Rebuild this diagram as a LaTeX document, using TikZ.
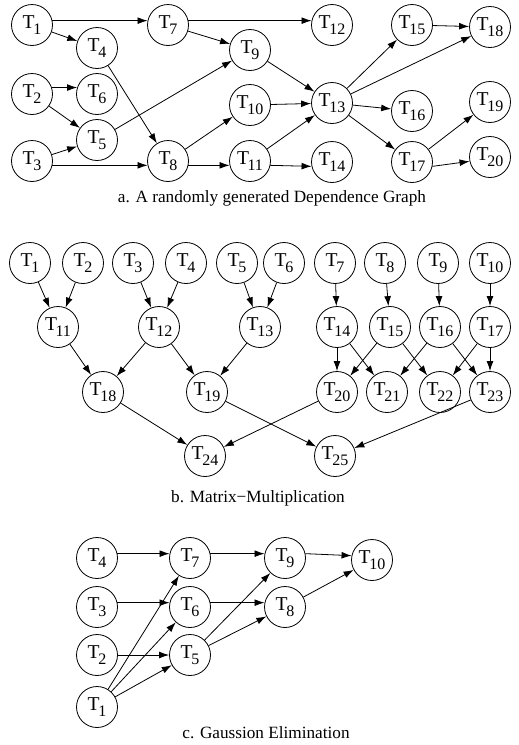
\documentclass[tikz,border=0pt]{standalone}
\usepackage{fontspec}
\setmainfont{Liberation Serif}
\usetikzlibrary{arrows.meta}
\newcommand{\tsub}[1]{T\kern-0.7pt\raisebox{-3pt}{\fontsize{8}{8}\selectfont #1}}

\begin{document}
\begin{tikzpicture}[
	x=0.5pt, y=-0.5pt,
  > = {Latex[length=5pt,width=3.4pt]},
  task/.style = {draw,circle,minimum size=20.5pt,inner sep=0pt,font=\fontsize{9.8}{10}\selectfont},
  caption/.style = {font=\fontsize{8.6}{10}\selectfont}
  ]
	\useasboundingbox (0,0) rectangle (519,745);

	% a. random graph
	\node[task] (a1) at (32,25) {\tsub{1}};
	\node[task] (a2) at (32,94) {\tsub{2}};
	\node[task] (a3) at (32,161) {\tsub{3}};
	\node[task] (a4) at (97,48) {\tsub{4}};
	\node[task] (a5) at (97,140) {\tsub{5}};
	\node[task] (a6) at (97,94) {\tsub{6}};
	\node[task] (a7) at (168,25) {\tsub{7}};
	\node[task] (a8) at (168,161) {\tsub{8}};
	\node[task] (a9) at (250,50) {\tsub{9}};
	\node[task] (a10) at (250,105) {\tsub{10}};
	\node[task] (a11) at (250,161) {\tsub{11}};
	\node[task] (a12) at (332,25) {\tsub{12}};
	\node[task] (a13) at (332,103) {\tsub{13}};
	\node[task] (a14) at (332,162) {\tsub{14}};
	\node[task] (a15) at (412,25) {\tsub{15}};
	\node[task] (a16) at (412,111) {\tsub{16}};
	\node[task] (a17) at (412,162) {\tsub{17}};
	\node[task] (a18) at (490,27) {\tsub{18}};
	\node[task] (a19) at (490,102) {\tsub{19}};
	\node[task] (a20) at (490,157) {\tsub{20}};

	\draw[->] (a1.12) -- (a7.168);
	\draw[->] (a1) -- (a4);
	\draw[->] (a7.12) -- (a12.168);
	\draw[->] (a7) -- (a9);
	\draw[->] (a4) -- (a8);
	\draw[->] (a2.18) -- (a6.162);
	\draw[->] (a2) -- (a5);
	\draw[->] (a3) -- (a5);
	\draw[->] (a5) -- (a9);
	\draw[->] (a3.-12) -- (a8.-168);
	\draw[->] (a8) -- (a10);
	\draw[->] (a8.-12) -- (a11.-168);
	\draw[->] (a9) -- (a13);
	\draw[->] (a10) -- (a13);
	\draw[->] (a11) -- (a13);
	\draw[->] (a11.-12) -- (a14.-168);
	\draw[->] (a13) -- (a15);
	\draw[->] (a13) -- (a18);
	\draw[->] (a13) -- (a16);
	\draw[->] (a13) -- (a17);
	\draw[->] (a15) -- (a18);
	\draw[->] (a17) -- (a19);
	\draw[->] (a17.-12) -- (a20.-168);

	\node[caption] (capa) at (272,198) {a. A randomly generated Dependence Graph};

	% b. matrix multiplication
	\node[task] (b1) at (30,263) {\tsub{1}};
	\node[task] (b2) at (83,263) {\tsub{2}};
	\node[task] (b3) at (133,263) {\tsub{3}};
	\node[task] (b4) at (186,263) {\tsub{4}};
	\node[task] (b5) at (237,263) {\tsub{5}};
	\node[task] (b6) at (284,263) {\tsub{6}};
	\node[task] (b7) at (335,263) {\tsub{7}};
	\node[task] (b8) at (385,263) {\tsub{8}};
	\node[task] (b9) at (438,263) {\tsub{9}};
	\node[task] (b10) at (490,263) {\tsub{10}};
	\node[task] (b11) at (58,327) {\tsub{11}};
	\node[task] (b12) at (159,327) {\tsub{12}};
	\node[task] (b13) at (260,327) {\tsub{13}};
	\node[task] (b14) at (337,327) {\tsub{14}};
	\node[task] (b15) at (390,327) {\tsub{15}};
	\node[task] (b16) at (440,327) {\tsub{16}};
	\node[task] (b17) at (490,327) {\tsub{17}};
	\node[task] (b18) at (103,392) {\tsub{18}};
	\node[task] (b19) at (207,392) {\tsub{19}};
	\node[task] (b20) at (337,392) {\tsub{20}};
	\node[task] (b21) at (387,392) {\tsub{21}};
	\node[task] (b22) at (440,392) {\tsub{22}};
	\node[task] (b23) at (490,392) {\tsub{23}};
	\node[task] (b24) at (205,456) {\tsub{24}};
	\node[task] (b25) at (335,456) {\tsub{25}};

	\draw[->] (b1) -- (b11);
	\draw[->] (b2) -- (b11);
	\draw[->] (b3) -- (b12);
	\draw[->] (b4) -- (b12);
	\draw[->] (b5) -- (b13);
	\draw[->] (b6) -- (b13);
	\draw[->] (b7) -- (b14);
	\draw[->] (b8) -- (b15);
	\draw[->] (b9) -- (b16);
	\draw[->] (b10) -- (b17);
	\draw[->] (b11) -- (b18);
	\draw[->] (b12) -- (b18);
	\draw[->] (b12) -- (b19);
	\draw[->] (b13) -- (b19);
	\draw[->] (b14) -- (b20);
	\draw[->] (b14) -- (b21);
	\draw[->] (b15) -- (b20);
	\draw[->] (b15) -- (b22);
	\draw[->] (b16) -- (b21);
	\draw[->] (b16) -- (b23);
	\draw[->] (b17) -- (b22);
	\draw[->] (b17) -- (b23);
	\draw[->] (b18) -- (b24);
	\draw[->] (b20) -- (b24);
	\draw[->] (b19) -- (b25);
	\draw[->] (b23) -- (b25);

	\node[caption] (capb) at (258,498) {b. Matrix−Multiplication};

	% c. gaussian elimination
	\node[task] (c4) at (97,558) {\tsub{4}};
	\node[task] (c3) at (97,607) {\tsub{3}};
	\node[task] (c2) at (97,655) {\tsub{2}};
	\node[task] (c1) at (97,707) {\tsub{1}};
	\node[task] (c7) at (190,558) {\tsub{7}};
	\node[task] (c6) at (190,607) {\tsub{6}};
	\node[task] (c5) at (190,655) {\tsub{5}};
	\node[task] (c9) at (285,558) {\tsub{9}};
	\node[task] (c8) at (285,607) {\tsub{8}};
	\node[task] (c10) at (372,560) {\tsub{10}};

	\draw[->] (c4.12) -- (c7.168);
	\draw[->] (c7.12) -- (c9.168);
	\draw[->] (c9.12) -- (c10.168);
	\draw[->] (c3.12) -- (c6.168);
	\draw[->] (c6.12) -- (c8.168);
	\draw[->] (c2) -- (c5);
	\draw[->] (c1) -- (c7);
	\draw[->] (c1) -- (c6);
	\draw[->] (c1) -- (c5);
	\draw[->] (c5) -- (c9);
	\draw[->] (c5) -- (c8);
	\draw[->] (c8) -- (c10);

	\node[caption] (capc) at (266,733) {c. Gaussion Elimination};

\end{tikzpicture}
\end{document}
